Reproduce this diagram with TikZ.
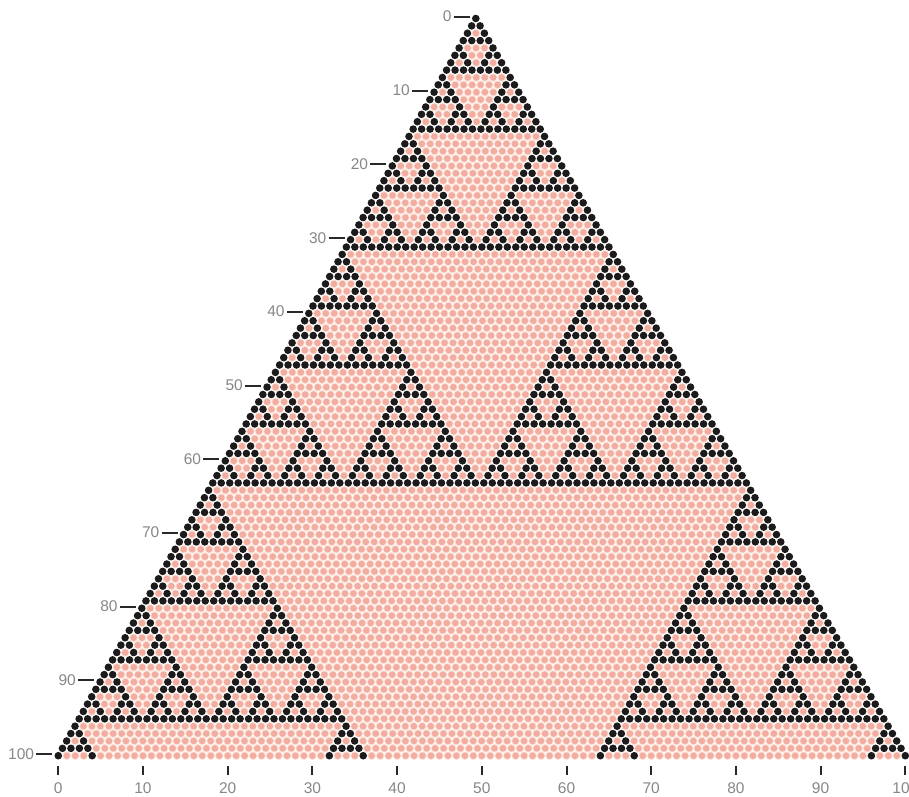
\documentclass[tikz,border=0pt]{standalone}
\usepackage{fontspec}
\setmainfont{Liberation Sans}
\definecolor{dotblack}{RGB}{28,26,26}
\definecolor{dotpink}{RGB}{243,172,160}
\definecolor{halo}{RGB}{252,228,218}
\definecolor{labelgray}{RGB}{135,135,135}
\definecolor{tickc}{RGB}{40,40,40}
\newcount\bitA \newcount\bitB \newcount\kk \newif\ifoddbinom
\def\checkbits{\ifnum\bitA>0 \ifodd\bitA \ifodd\bitB\else\oddbinomfalse\fi\fi \divide\bitA by 2 \divide\bitB by 2 \expandafter\checkbits\fi}
\def\binomparity#1#2{\bitA=#1\relax\bitB=#2\relax\oddbinomtrue\checkbits}
\newsavebox\bdotbox \newsavebox\pdotbox
\def\buildrow#1{\hbox{\kk=0 \loop\binomparity{\kk}{#1}\ifoddbinom\copy\bdotbox\else\copy\pdotbox\fi\ifnum\kk<#1 \advance\kk by 1 \repeat}}
\begin{document}
\sbox\bdotbox{\begin{pgfpicture}
  \pgfpathrectangle{\pgfpoint{-4.235pt}{-4.235pt}}{\pgfpoint{8.47pt}{8.47pt}}
  \pgfusepath{use as bounding box}
  \pgfpathcircle{\pgfpointorigin}{3.8pt}
  \pgfsetfillcolor{dotblack}\pgfusepath{fill}
\end{pgfpicture}}
\sbox\pdotbox{\begin{pgfpicture}
  \pgfpathrectangle{\pgfpoint{-4.235pt}{-4.235pt}}{\pgfpoint{8.47pt}{8.47pt}}
  \pgfusepath{use as bounding box}
  \pgfpathcircle{\pgfpointorigin}{4.4pt}
  \pgfsetfillcolor{halo}\pgfusepath{fill}
  \pgfpathcircle{\pgfpointorigin}{3.3pt}
  \pgfsetfillcolor{dotpink}\pgfusepath{fill}
\end{pgfpicture}}
\begin{tikzpicture}[x=1pt,y=-1pt,
  rowbox/.style={inner sep=0pt,outer sep=0pt},
  tickline/.style={draw=tickc,line width=2pt},
  lab/.style={text=labelgray,inner sep=0pt,font=\fontsize{15.5}{18}\selectfont}]
\useasboundingbox (0,0) rectangle (909,796);
% rows of Pascal's triangle mod 2
\foreach \n in {0,...,100}{
  \pgfmathsetmacro\cx{475.8+0.06*\n}
  \pgfmathsetmacro\yy{18.5+7.372*\n}
  \node[rowbox] (r\n) at (\cx,\yy) {\buildrow{\n}};
}
% left row labels
\foreach \n in {0,10,...,100}{
  \pgfmathsetmacro\xl{475.8+0.06*\n-\n*4.235}
  \pgfmathsetmacro\yy{18.5+7.372*\n}
  \coordinate (da\n) at (\xl-22,\yy-1.5);
  \coordinate (db\n) at (\xl-6,\yy-1.5);
  \draw[tickline] (da\n) -- (db\n);
  \node[lab,anchor=east] (l\n) at (\xl-24,\yy-2) {\n};
}
% bottom labels
\foreach \k in {0,10,...,100}{
  \pgfmathsetmacro\xb{58.3+8.47*\k}
  \coordinate (ta\k) at (\xb,766);
  \coordinate (tb\k) at (\xb,775);
  \draw[tickline] (ta\k) -- (tb\k);
  \node[lab] (b\k) at (\xb,788.5) {\k};
}
\end{tikzpicture}
\end{document}
